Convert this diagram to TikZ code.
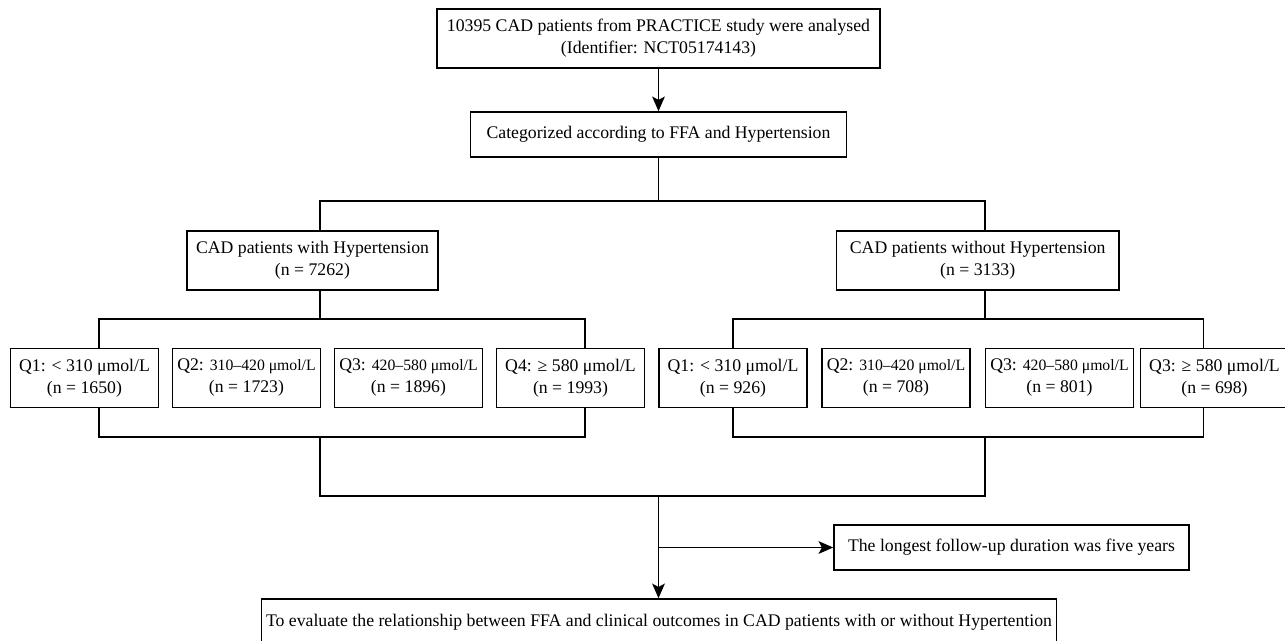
\documentclass[tikz,border=0pt]{standalone}
\usepackage{fontspec}
\setmainfont{Liberation Serif}
\usetikzlibrary{positioning,arrows.meta}

\tikzset{
  box/.style={draw, line width=1.1pt, align=center, inner sep=0pt,
    font=\fontsize{13.3}{16.5}\selectfont},
  qbox/.style={box, minimum width=111pt, minimum height=44.4pt},
  link/.style={line width=1.1pt},
  flow/.style={link, -{Stealth[length=11pt,width=9.5pt,inset=2.5pt]}},
}
\newcommand{\qrange}[1]{{\fontsize{11.8}{14}\selectfont #1}}

\begin{document}
\begin{tikzpicture}[x=0.75pt,y=-0.75pt]
  \useasboundingbox (0,0) rectangle (1285,640);

  \node[box, minimum width=332pt, minimum height=44.4pt] (src) at (658.5,38.5)
    {10395 CAD patients from PRACTICE study were analysed\\(Identifier: NCT05174143)};
  \node[box, minimum width=282pt, minimum height=33.8pt] (cat) at (658.5,134.5)
    {Categorized according to FFA and Hypertension};
  \node[box, minimum width=188.3pt, minimum height=44.4pt] (hyp) at (312.5,260.5)
    {CAD patients with Hypertension\\(n = 7262)};
  \node[box, minimum width=211.8pt, minimum height=44.4pt] (nohyp) at (977.7,260.5)
    {CAD patients without Hypertension\\(n = 3133)};

  % quartiles, with hypertension
  \node[qbox] (hq1) at (84.5,378)  {Q1: < 310 μmol/L\\(n = 1650)};
  \node[qbox] (hq2) at (246.5,378) {Q2: \qrange{310–420 μmol/L}\\(n = 1723)};
  \node[qbox] (hq3) at (408.5,378) {Q3: \qrange{420–580 μmol/L}\\(n = 1896)};
  \node[qbox] (hq4) at (570.5,378) {Q4: ≥ 580 μmol/L\\(n = 1993)};
  % quartiles, without hypertension
  \node[qbox] (nq1) at (733,378)   {Q1: < 310 μmol/L\\(n = 926)};
  \node[qbox] (nq2) at (896,378)   {Q2: \qrange{310–420 μmol/L}\\(n = 708)};
  \node[qbox] (nq3) at (1059.5,378) {Q3: \qrange{420–580 μmol/L}\\(n = 801)};
  \node[qbox] (nq4) at (1214.5,378) {Q3: ≥ 580 μmol/L\\(n = 698)};

  \node[box, minimum width=266.3pt, minimum height=33.8pt] (follow) at (1011.5,547.5)
    {The longest follow-up duration was five years};
  \node[box, minimum width=596.5pt, minimum height=34.5pt] (goal) at (659,622)
    {To evaluate the relationship between FFA and clinical outcomes in CAD patients with or without Hypertention};

  \coordinate (split) at (658.5,201);
  \coordinate (sL) at (320,201);
  \coordinate (sR) at (985,201);
  \coordinate (hT1) at (99,319);
  \coordinate (hT4) at (585,319);
  \coordinate (nT1) at (733,319);
  \coordinate (nT4) at (1203.5,319);
  \coordinate (hB1) at (99,437);
  \coordinate (hB4) at (585,437);
  \coordinate (nB1) at (733,437);
  \coordinate (nB4) at (1203.5,437);
  \coordinate (mL) at (320,496);
  \coordinate (mR) at (985,496);
  \coordinate (merge) at (658.5,496);
  \coordinate (fork) at (658.5,547.5);

  \draw[flow] (src) -- (cat);
  \draw[link] (cat) -- (split);
  \draw[link] (hyp.north -| sL) -- (sL) -- (sR) -- (sR |- nohyp.north);

  \draw[link] (hyp.south -| sL) -- (sL |- hT1);
  \draw[link] (hT1 |- hq1.north) -- (hT1) -- (hT4) -- (hT4 |- hq4.north);
  \draw[link] (hB1 |- hq1.south) -- (hB1) -- (hB4) -- (hB4 |- hq4.south);
  \draw[link] (nohyp.south -| sR) -- (sR |- nT1);
  \draw[link] (nT1 |- nq1.north) -- (nT1) -- (nT4) -- (nT4 |- nq4.north);
  \draw[link] (nB1 |- nq1.south) -- (nB1) -- (nB4) -- (nB4 |- nq4.south);

  \draw[link] (sL |- hB1) -- (mL) -- (mR) -- (sR |- nB1);
  \draw[flow] (merge) -- (goal.north -| merge);
  \draw[flow] (fork) -- (follow.west);
\end{tikzpicture}
\end{document}
